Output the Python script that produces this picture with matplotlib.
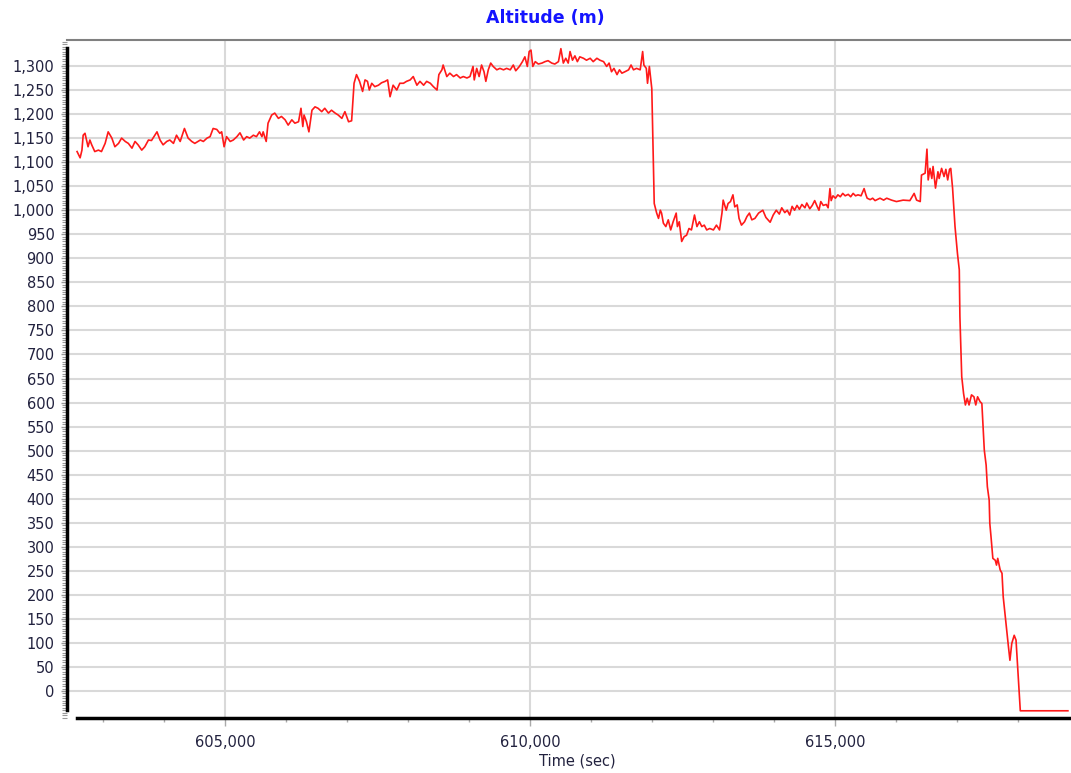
#!/usr/bin/env python3
# -*- coding: utf-8 -*-
import matplotlib

matplotlib.use("Agg")
import matplotlib.pyplot as plt
from matplotlib.ticker import FuncFormatter, MultipleLocator

# values (time in sec, altitude in m)
time_sec = [
    602570, 602620, 602650, 602670, 602700, 602730, 602750, 602780, 602810, 602860,
    602920, 602970, 603030, 603080, 603140, 603190, 603250, 603300, 603360, 603410,
    603470, 603520, 603570, 603630, 603680, 603740, 603790, 603880, 603930, 603980,
    604040, 604090, 604150, 604200, 604260, 604330, 604390, 604450, 604500, 604590,
    604640, 604700, 604750, 604800, 604860, 604910, 604940, 604980, 605020, 605080,
    605130, 605190, 605240, 605300, 605350, 605400, 605460, 605510, 605560, 605600,
    605620, 605670, 605700, 605760, 605810, 605870, 605920, 605980, 606030, 606090,
    606140, 606200, 606240, 606270, 606290, 606330, 606370, 606420, 606470, 606520,
    606580, 606630, 606690, 606740, 606800, 606850, 606910, 606960, 607020, 607070,
    607110, 607150, 607200, 607250, 607290, 607330, 607360, 607400, 607450, 607510,
    607560, 607620, 607660, 607700, 607750, 607810, 607860, 607920, 607970, 608030,
    608080, 608140, 608190, 608250, 608300, 608360, 608410, 608470, 608500, 608550,
    608570, 608630, 608680, 608740, 608790, 608850, 608900, 608960, 609010, 609060,
    609080, 609120, 609160, 609200, 609240, 609270, 609310, 609350, 609390, 609450,
    609500, 609560, 609610, 609670, 609720, 609760, 609820, 609870, 609910, 609950,
    609980, 610010, 610040, 610080, 610130, 610190, 610240, 610290, 610350, 610400,
    610460, 610500, 610540, 610580, 610620, 610650, 610690, 610730, 610770, 610810,
    610870, 610920, 610980, 611030, 611090, 611140, 611200, 611250, 611290, 611330,
    611370, 611420, 611460, 611500, 611550, 611610, 611650, 611690, 611740, 611800,
    611840, 611860, 611900, 611920, 611950, 611990, 612030, 612070, 612100, 612130,
    612150, 612180, 612220, 612260, 612300, 612340, 612390, 612410, 612440, 612480,
    612520, 612560, 612600, 612640, 612690, 612730, 612770, 612810, 612850, 612890,
    612940, 613000, 613050, 613100, 613140, 613160, 613210, 613240, 613280, 613320,
    613350, 613390, 613420, 613460, 613510, 613550, 613590, 613630, 613680, 613740,
    613810, 613860, 613930, 613980, 614030, 614080, 614120, 614170, 614210, 614250,
    614290, 614330, 614370, 614410, 614450, 614500, 614530, 614580, 614620, 614660,
    614700, 614730, 614760, 614800, 614850, 614880, 614910, 614930, 614960, 615000,
    615040, 615080, 615120, 615160, 615210, 615250, 615290, 615330, 615370, 615420,
    615470, 615500, 615520, 615570, 615610, 615650, 615730, 615790, 615840, 615920,
    616000, 616110, 616220, 616290, 616330, 616390, 616410, 616470, 616500, 616520,
    616550, 616580, 616600, 616640, 616680, 616700, 616740, 616780, 616810, 616840,
    616870, 616890, 616920, 616960, 617000, 617030, 617040, 617070, 617100, 617130,
    617160, 617190, 617230, 617270, 617300, 617330, 617370, 617400, 617440, 617470,
    617490, 617520, 617530, 617550, 617580, 617620, 617640, 617660, 617700, 617730,
    617750, 617800, 617830, 617860, 617890, 617930, 617960, 618030, 618810,
]
altitude_m = [
    1122, 1109, 1125, 1156, 1160, 1143, 1132, 1146, 1136, 1122,
    1125, 1122, 1139, 1163, 1150, 1132, 1139, 1150, 1143, 1139,
    1129, 1143, 1136, 1125, 1132, 1146, 1145, 1163, 1146, 1136,
    1143, 1146, 1139, 1156, 1143, 1170, 1150, 1143, 1139, 1146,
    1143, 1150, 1153, 1170, 1168, 1160, 1163, 1132, 1153, 1143,
    1146, 1153, 1161, 1146, 1153, 1150, 1156, 1153, 1163, 1153,
    1163, 1143, 1181, 1198, 1202, 1191, 1195, 1188, 1177, 1188,
    1181, 1184, 1212, 1174, 1198, 1184, 1163, 1208, 1215, 1212,
    1205, 1212, 1202, 1208, 1202, 1198, 1191, 1205, 1184, 1186,
    1264, 1282, 1268, 1247, 1271, 1268, 1250, 1264, 1257, 1260,
    1265, 1268, 1271, 1236, 1260, 1250, 1264, 1264, 1268, 1271,
    1278, 1260, 1268, 1260, 1268, 1264, 1257, 1250, 1282, 1292,
    1302, 1278, 1285, 1278, 1282, 1275, 1278, 1275, 1278, 1299,
    1271, 1295, 1278, 1302, 1288, 1268, 1292, 1306, 1299, 1292,
    1295, 1292, 1295, 1292, 1302, 1290, 1299, 1309, 1319, 1299,
    1330, 1333, 1299, 1309, 1304, 1306, 1309, 1311, 1306, 1304,
    1309, 1336, 1306, 1316, 1306, 1330, 1312, 1321, 1309, 1319,
    1316, 1312, 1316, 1309, 1316, 1312, 1309, 1299, 1306, 1288,
    1295, 1282, 1292, 1285, 1288, 1292, 1302, 1292, 1295, 1292,
    1330, 1302, 1295, 1264, 1299, 1253, 1014, 994, 983, 1000,
    994, 973, 966, 980, 959, 976, 994, 966, 976, 935,
    945, 948, 962, 959, 990, 966, 976, 966, 969, 959,
    962, 959, 969, 959, 994, 1021, 1000, 1014, 1018, 1032,
    1007, 1011, 983, 969, 976, 987, 994, 980, 983, 994,
    1000, 985, 975, 990, 1000, 992, 1005, 995, 1000, 990,
    1008, 1000, 1010, 1002, 1012, 1005, 1015, 1003, 1010, 1020,
    1008, 1000, 1018, 1010, 1012, 1005, 1045, 1020, 1030, 1025,
    1032, 1028, 1035, 1030, 1033, 1028, 1035, 1030, 1032, 1030,
    1045, 1032, 1025, 1022, 1025, 1020, 1025, 1021, 1025, 1021,
    1018, 1021, 1020, 1035, 1021, 1018, 1073, 1077, 1127, 1063,
    1087, 1066, 1091, 1046, 1080, 1066, 1087, 1070, 1085, 1063,
    1085, 1087, 1046, 966, 910, 876, 779, 654, 619, 595,
    609, 595, 616, 612, 595, 612, 602, 598, 501, 470,
    425, 397, 349, 321, 276, 272, 262, 276, 252, 245,
    196, 134, 99, 64, 99, 116, 106, -41, -41,
]
y_ticks = list(range(0, 1301, 50))

X_MIN, X_MAX = 602405, 618861
Y_MIN, Y_MAX = -56, 1354
TEXT_COLOR = "#22223f"
GRID_COLOR = "#d9d9d9"


def main() -> None:
    plt.rcParams["font.family"] = ["DejaVu Sans"]
    fig = plt.figure(figsize=(10.71, 7.73), dpi=100)
    ax = fig.add_axes([67 / 1071, 1 - 718 / 773, 1 - 67 / 1071, (718 - 40) / 773])

    ax.plot(time_sec, altitude_m, color="#ff1a1a", linewidth=1.2, zorder=3)

    ax.set_xlim(X_MIN, X_MAX)
    ax.set_ylim(Y_MIN, Y_MAX)

    ax.xaxis.set_major_locator(MultipleLocator(5000))
    ax.xaxis.set_minor_locator(MultipleLocator(1000))
    ax.set_yticks(y_ticks)
    ax.yaxis.set_minor_locator(MultipleLocator(5))
    ax.xaxis.set_major_formatter(FuncFormatter(lambda v, _: f"{v:,.0f}"))
    ax.yaxis.set_major_formatter(FuncFormatter(lambda v, _: f"{v:,.0f}"))

    ax.grid(True, which="major", color=GRID_COLOR, linewidth=1.5, zorder=0)
    ax.set_axisbelow(True)

    ax.tick_params(axis="x", which="major", length=6, width=1, color="#aaaaaa",
                   labelsize=10.5, labelcolor=TEXT_COLOR, pad=6)
    ax.tick_params(axis="x", which="minor", length=3, width=1, color="#aaaaaa")
    ax.tick_params(axis="y", which="major", length=4, width=1, color="#999999",
                   labelsize=10.5, labelcolor=TEXT_COLOR, pad=5)
    ax.tick_params(axis="y", which="minor", length=3.5, width=0.8, color="#999999")

    ax.spines["right"].set_visible(False)
    ax.spines["top"].set_color("#808080")
    ax.spines["top"].set_linewidth(1.5)
    ax.spines["left"].set_color("black")
    ax.spines["left"].set_linewidth(2.5)
    ax.spines["left"].set_bounds(-40, 1337)
    ax.spines["bottom"].set_color("black")
    ax.spines["bottom"].set_linewidth(2.5)
    ax.spines["bottom"].set_bounds(602570, X_MAX)

    ax.set_xlabel("Time (sec)", fontsize=10.5, color=TEXT_COLOR)
    ax.xaxis.set_label_coords((577 - 67) / 1004, -0.052)
    ax.xaxis.label.set_va("top")

    fig.text(545 / 1071, 1 - 18 / 773, "Altitude (m)", ha="center", va="center",
             fontsize=12.5, fontweight="bold", color="#1414ff")

    fig.savefig("out.png", dpi=100)
    plt.close(fig)


if __name__ == "__main__":
    main()
